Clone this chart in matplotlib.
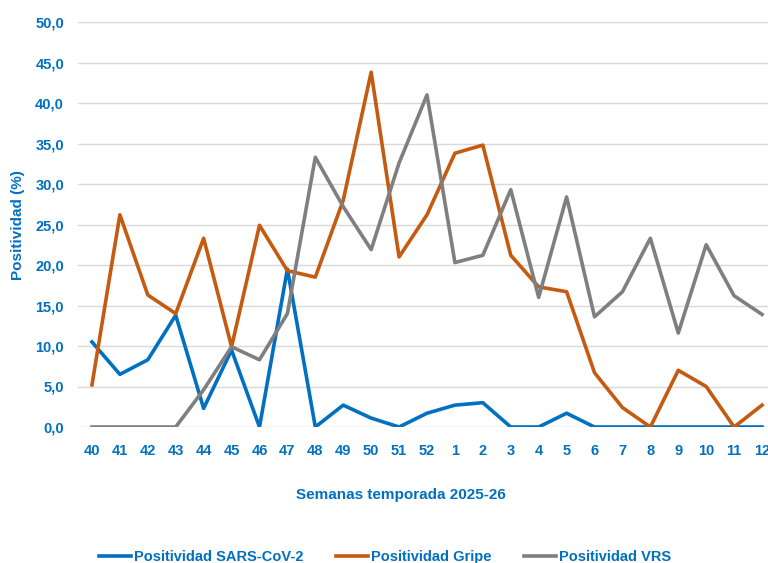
import matplotlib
matplotlib.use("Agg")
import matplotlib.pyplot as plt

plt.rcParams['font.family'] = ['Liberation Sans Narrow', 'Liberation Sans', 'DejaVu Sans']

# Semanas epidemiologicas (40-52 de 2025, 1-12 de 2026)
semanas = ['40', '41', '42', '43', '44', '45', '46', '47', '48', '49', '50', '51', '52',
           '1', '2', '3', '4', '5', '6', '7', '8', '9', '10', '11', '12']

sars_cov2 = [10.5, 6.5, 8.3, 13.8, 2.3, 9.5, 0.0, 19.5, 0.0, 2.7, 1.1, 0.0, 1.7,
             2.7, 3.0, 0.0, 0.0, 1.7, 0.0, 0.0, 0.0, 0.0, 0.0, 0.0, 0.0]
gripe = [5.2, 26.2, 16.3, 14.0, 23.3, 9.9, 24.9, 19.3, 18.5, 28.0, 43.8, 21.0, 26.2,
         33.8, 34.8, 21.2, 17.3, 16.7, 6.7, 2.4, 0.0, 7.0, 5.0, 0.0, 2.7]
vrs = [0.0, 0.0, 0.0, 0.0, 4.6, 9.9, 8.3, 14.0, 33.3, 27.2, 21.9, 32.6, 41.0,
       20.3, 21.2, 29.3, 16.0, 28.4, 13.6, 16.7, 23.3, 11.6, 22.5, 16.2, 13.9]

azul = '#0070C0'
naranja = '#C55A11'
gris = '#7F7F7F'

fig = plt.figure(figsize=(7.68, 5.63), dpi=100)
# the right edge of the plot runs past the figure, like the cropped original
ax = fig.add_axes([78 / 768, 136 / 563, 698 / 768, 405 / 563])

x = list(range(len(semanas)))
ax.plot(x, sars_cov2, color=azul, lw=2.6, label='Positividad SARS-CoV-2', solid_joinstyle='round')
ax.plot(x, gripe, color=naranja, lw=2.6, label='Positividad Gripe', solid_joinstyle='round')
ax.plot(x, vrs, color=gris, lw=2.6, label='Positividad VRS', solid_joinstyle='round')

ax.set_xlim(-0.5, len(semanas) - 0.5)
ax.set_ylim(0, 50)
ax.set_yticks(range(0, 51, 5))
ax.set_yticklabels([f'{v},0' for v in range(0, 51, 5)])
ax.set_xticks(x)
ax.set_xticklabels(semanas)

ax.grid(axis='y', color='#D9D9D9', lw=1)
ax.set_axisbelow(True)
for s in ax.spines.values():
    s.set_visible(False)
ax.tick_params(length=0, labelsize=10.5, labelcolor=azul, pad=12)
ax.tick_params(axis='y', pad=10)
for lab in ax.get_xticklabels() + ax.get_yticklabels():
    lab.set_fontweight('bold')

fig.text(18 / 768, 1 - 225 / 563, 'Positividad (%)', rotation=90, ha='center', va='center',
         color=azul, fontsize=11, fontweight='bold')
fig.text(401 / 768, 1 - 495 / 563, 'Semanas temporada 2025-26', ha='center', va='center',
         color=azul, fontsize=11, fontweight='bold')

leg = fig.legend(loc='center', bbox_to_anchor=(385 / 768, 1 - 557 / 563), ncol=3,
                 frameon=False, fontsize=10.5, handlelength=2.2, handletextpad=0.2,
                 columnspacing=2.2)
for t in leg.get_texts():
    t.set_color(azul)
    t.set_fontweight('bold')

fig.savefig('out.png', dpi=100)
